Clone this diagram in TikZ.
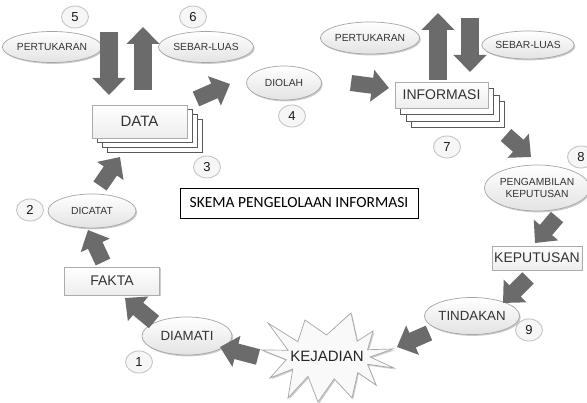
\documentclass[tikz,border=0pt]{standalone}
\usepackage{fontspec}
\setmainfont{Liberation Sans}
\newfontfamily\titlefont{Carlito}
\usetikzlibrary{arrows.meta,shapes.geometric,shadows}
\definecolor{arrowgray}{HTML}{6B6B6B}
\definecolor{txtgray}{HTML}{333333}
\tikzset{
  num/.style={ellipse, draw=gray!45, fill=gray!7, line width=0.9pt, minimum width=27pt, minimum height=22pt, inner sep=0pt, font=\fontsize{13}{13}\selectfont, text=black!90},
  oval/.style={ellipse, draw=gray!70, line width=0.7pt, top color=white, bottom color=gray!22, drop shadow={shadow xshift=1.2pt,shadow yshift=-1.4pt,opacity=0.4}, inner sep=0pt, text=txtgray},
  plainbox/.style={rectangle, draw=gray!65, line width=0.6pt, top color=white, bottom color=gray!14, drop shadow={shadow xshift=1.2pt,shadow yshift=-1.4pt,opacity=0.4}, inner sep=0pt, text=txtgray},
  layer/.style={rectangle, draw=black!65, fill=white, line width=0.7pt, inner sep=0pt},
  bigarrow/.style={draw=arrowgray, line width=16pt, -{Triangle[length=17pt,width=31pt]}},
  vertarrow/.style={draw=arrowgray, line width=18pt, -{Triangle[length=17pt,width=32pt]}},
  smallfont/.style={font=\fontsize{10.3}{12}\selectfont},
  bigfont/.style={font=\fontsize{14}{16}\selectfont},
}
\begin{document}
\begin{tikzpicture}[x=1pt,y=-1pt]
\fill[white] (0,0) rectangle (587,403);
\useasboundingbox (0,0) rectangle (587,403);

% ---- numbers
\node[num] (n5) at (75,17) {5};
\node[num] (n6) at (193,17) {6};
\node[num] (n3) at (207,167) {3};
\node[num] (n4) at (292,116) {4};
\node[num] (n7) at (447,147) {7};
\node[num] (n8) at (581,157) {8};
\node[num] (n9) at (529,330) {9};
\node[num] (n1) at (139,362) {1};
\node[num] (n2) at (30,210) {2};

% ---- ovals
\node[oval, smallfont, minimum width=85pt, minimum height=31pt] (pertL) at (52,47) {PERTUKARAN};
\node[oval, smallfont, minimum width=95pt, minimum height=31pt] (sebarL) at (206,47) {SEBAR-LUAS};
\node[oval, smallfont, minimum width=75pt, minimum height=34pt] (diolah) at (284,83) {DIOLAH};
\node[oval, smallfont, minimum width=95pt, minimum height=32pt] (pertR) at (370,38) {PERTUKARAN};
\node[oval, smallfont, minimum width=84pt, minimum height=28pt] (sebarR) at (528,45) {SEBAR-LUAS};
\node[oval, smallfont, align=center, minimum width=88pt, minimum height=46pt] (peng) at (537,188) {PENGAMBILAN\\KEPUTUSAN};
\node[oval, font=\fontsize{13.3}{15}\selectfont, minimum width=90pt, minimum height=37pt] (tind) at (472,316) {TINDAKAN};
\node[oval, font=\fontsize{13.3}{15}\selectfont, minimum width=90pt, minimum height=38pt] (diam) at (187,336) {DIAMATI};
\node[oval, smallfont, minimum width=88pt, minimum height=34pt] (dicat) at (92,211) {DICATAT};

% ---- stacked boxes
\node[layer, minimum width=95pt, minimum height=33pt] (dataL3) at (154.5,135.5) {};
\node[layer, minimum width=95pt, minimum height=33pt] (dataL2) at (149.5,130.5) {};
\node[layer, minimum width=95pt, minimum height=33pt] (dataL1) at (144.5,126) {};
\node[plainbox, font=\fontsize{15}{17}\selectfont, minimum width=95pt, minimum height=33pt] (data) at (139.5,121.5) {DATA};

\node[layer, minimum width=93pt, minimum height=26pt] (infoL3) at (458,114.5) {};
\node[layer, minimum width=93pt, minimum height=26pt] (infoL2) at (452.5,108) {};
\node[layer, minimum width=93pt, minimum height=26pt] (infoL1) at (447,101.5) {};
\node[plainbox, bigfont, minimum width=93pt, minimum height=26pt] (info) at (441.5,95) {INFORMASI};

% ---- single boxes
\node[plainbox, bigfont, minimum width=90pt, minimum height=24pt] (kep) at (537,258) {KEPUTUSAN};
\node[plainbox, bigfont, minimum width=95pt, minimum height=28pt] (fakta) at (112,281) {FAKTA};

% ---- starburst (KEJADIAN)
\draw[draw=gray!70, line width=0.7pt, fill=gray!5, line join=miter,
      drop shadow={shadow xshift=1.2pt,shadow yshift=-1.4pt,opacity=0.4}]
  (351,313) -- (357.2,341.2) -- (373,331) -- (367.6,349.7) -- (393,349) -- (370,357)
  -- (394,368) -- (367.6,364.3) -- (376,385) -- (357.7,372.6) -- (352,398)
  -- (334.2,378.8) -- (318,402) -- (308,376.3) -- (288,398) -- (292.8,369)
  -- (270,378) -- (286.3,359.7) -- (262,350) -- (288.1,350.2) -- (268,323)
  -- (297.8,341.7) -- (305,320) -- (326.5,335) -- cycle;
\node[inner sep=0pt, text=black!85, font=\fontsize{15}{17}\selectfont] (kej) at (327,356) {KEJADIAN};

% ---- title
\node[draw=black, line width=0.9pt, minimum width=238pt, minimum height=30pt, inner sep=0pt,
      font=\titlefont\fontsize{15.5}{17}\selectfont] (title) at (299,203) {SKEMA PENGELOLAAN INFORMASI};

% ---- arrow coordinates
\coordinate (a5s) at (109,32);  \coordinate (a5e) at (109,95);
\coordinate (a6s) at (143,90);  \coordinate (a6e) at (143,27);
\coordinate (a7s) at (438,80);  \coordinate (a7e) at (438,13);
\coordinate (a8s) at (470,18);  \coordinate (a8e) at (470,72);
\coordinate (b1s) at (196,99);  \coordinate (b1e) at (230,84);
\coordinate (b2s) at (351,83);  \coordinate (b2e) at (389,88);
\coordinate (b3s) at (506,135); \coordinate (b3e) at (531,157);
\coordinate (b4s) at (557,217); \coordinate (b4e) at (535,243);
\coordinate (b5s) at (528,278); \coordinate (b5e) at (503,303);
\coordinate (b6s) at (429,333); \coordinate (b6e) at (397,347);
\coordinate (b7s) at (258,357); \coordinate (b7e) at (220,347);
\coordinate (b8s) at (154,322); \coordinate (b8e) at (125,298);
\coordinate (b9s) at (103,262); \coordinate (b9e) at (88,230);
\coordinate (b10s) at (100,186); \coordinate (b10e) at (120,157);

\draw[vertarrow] (a5s) -- (a5e);
\draw[vertarrow] (a6s) -- (a6e);
\draw[vertarrow] (a7s) -- (a7e);
\draw[vertarrow] (a8s) -- (a8e);
\foreach \i in {1,...,10} {\draw[bigarrow] (b\i s) -- (b\i e);}
\end{tikzpicture}
\end{document}
